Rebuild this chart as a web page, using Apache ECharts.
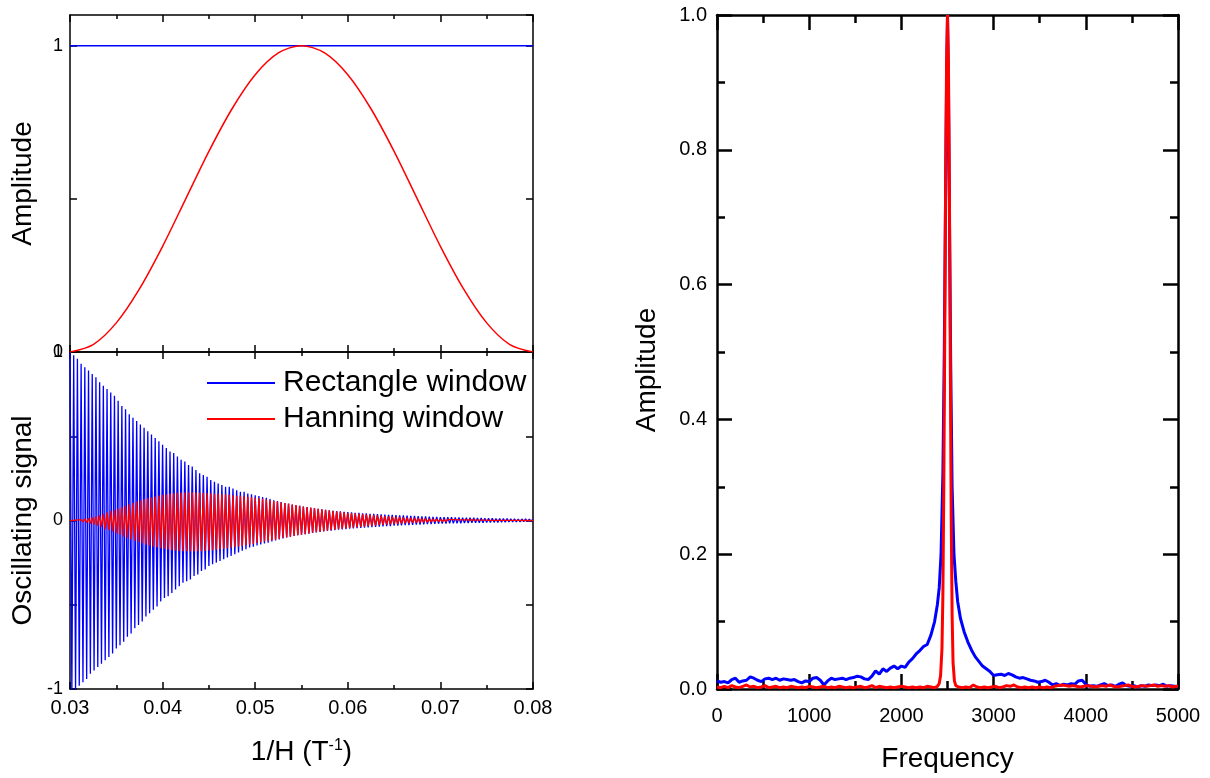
<!DOCTYPE html>
<html>
<head>
<meta charset="utf-8">
<script src="https://cdn.jsdelivr.net/npm/echarts@6/dist/echarts.min.js"></script>
<style>
html,body{margin:0;padding:0;background:#fff;}
#chart{width:1210px;height:778px;}
</style>
</head>
<body>
<div id="chart"></div>
<script>
// ---------- DATA ----------
const seriesNames = ['Rectangle window', 'Hanning window'];

// Top-left: window functions vs 1/H
const windowX = [0.03, 0.08];
const rectWindow = [1, 1];
const hannX = [0.03,0.0325,0.035,0.0375,0.04,0.0425,0.045,0.0475,0.05,0.0525,0.055,0.0575,0.06,0.0625,0.065,0.0675,0.07,0.0725,0.075,0.0775,0.08];
const hannY = [0,0.024,0.095,0.206,0.345,0.5,0.655,0.794,0.905,0.976,1,0.976,0.905,0.794,0.655,0.5,0.345,0.206,0.095,0.024,0];

// Bottom-left: oscillating signal, successive extrema (one value per half-cycle)
const signalStart = 0.03;
const signalStep = 0.0002;
const rectSignal = [
1.00,-1.03,0.98,-1.01,0.96,-0.98,0.93,-0.96,0.91,-0.94,0.89,-0.91,0.87,-0.89,0.85,-0.87,0.82,-0.85,0.80,-0.83,0.78,-0.81,0.76,-0.79,0.74,
-0.76,0.71,-0.74,0.68,-0.72,0.66,-0.69,0.63,-0.67,0.61,-0.64,0.59,-0.62,0.57,-0.60,0.55,-0.57,0.53,-0.55,0.51,-0.53,0.49,-0.51,0.47,-0.48,
0.45,-0.46,0.43,-0.45,0.41,-0.43,0.40,-0.41,0.38,-0.39,0.36,-0.37,0.35,-0.36,0.33,-0.35,0.32,-0.33,0.30,-0.32,0.28,-0.30,0.27,-0.29,0.26,
-0.27,0.24,-0.26,0.23,-0.25,0.22,-0.24,0.21,-0.23,0.20,-0.22,0.20,-0.21,0.19,-0.20,0.18,-0.19,0.17,-0.18,0.17,-0.17,0.16,-0.16,0.155,-0.155,
0.15,-0.148,0.145,-0.142,0.14,-0.137,0.135,-0.132,0.128,-0.125,0.12,-0.118,0.115,-0.112,0.11,-0.107,0.104,-0.101,0.099,-0.096,0.094,-0.092,0.09,-0.088,0.087,
-0.085,0.083,-0.081,0.08,-0.078,0.076,-0.074,0.073,-0.071,0.07,-0.068,0.067,-0.065,0.064,-0.062,0.061,-0.06,0.058,-0.057,0.056,-0.055,0.054,-0.053,0.052,-0.051,
0.05,-0.049,0.048,-0.047,0.046,-0.045,0.045,-0.044,0.043,-0.042,0.042,-0.041,0.04,-0.039,0.039,-0.038,0.038,-0.037,0.036,-0.035,0.035,-0.034,0.034,-0.033,0.033,
-0.031,0.032,-0.03,0.031,-0.029,0.03,-0.028,0.029,-0.027,0.028,-0.026,0.027,-0.025,0.026,-0.024,0.025,-0.023,0.024,-0.022,0.023,-0.021,0.022,-0.02,0.021,-0.019,
0.02,-0.018,0.02,-0.018,0.019,-0.017,0.019,-0.017,0.018,-0.016,0.018,-0.016,0.017,-0.015,0.017,-0.015,0.016,-0.014,0.016,-0.014,0.015,-0.014,0.015,-0.013,0.014,
-0.012,0.013,-0.012,0.013,-0.011,0.012,-0.011,0.012,-0.01,0.011,-0.01,0.011,-0.009,0.01,-0.009,0.01,-0.008,0.009,-0.008,0.009,-0.007,0.009,-0.007,0.008,-0.006,
0.008];
const hannSignal = [
0,-0.001,0.001,-0.002,0.003,-0.005,0.005,-0.008,0.009,-0.012,0.014,-0.019,0.019,-0.025,0.025,-0.032,0.032,-0.04,0.04,-0.051,0.048,-0.058,0.056,-0.066,0.064,
-0.077,0.072,-0.085,0.08,-0.094,0.088,-0.103,0.096,-0.112,0.104,-0.12,0.112,-0.128,0.119,-0.135,0.126,-0.143,0.132,-0.149,0.137,-0.155,0.143,-0.16,0.148,-0.164,
0.152,-0.168,0.155,-0.172,0.159,-0.176,0.162,-0.178,0.164,-0.181,0.166,-0.182,0.166,-0.183,0.167,-0.184,0.167,-0.184,0.166,-0.183,0.165,-0.182,0.164,-0.181,0.163,
-0.178,0.161,-0.176,0.159,-0.174,0.158,-0.171,0.156,-0.168,0.155,-0.164,0.152,-0.161,0.15,-0.158,0.147,-0.154,0.146,-0.151,0.144,-0.146,0.141,-0.143,0.139,-0.139,
0.135,-0.134,0.133,-0.131,0.129,-0.125,0.124,-0.122,0.12,-0.118,0.116,-0.114,0.113,-0.11,0.108,-0.102,0.104,-0.1,0.1,-0.097,0.095,-0.091,0.091,-0.088,0.087,
-0.085,0.083,-0.081,0.08,-0.077,0.077,-0.073,0.074,-0.07,0.07,-0.067,0.067,-0.064,0.064,-0.061,0.061,-0.058,0.058,-0.054,0.055,-0.051,0.051,-0.049,0.048,-0.046,
0.045,-0.044,0.044,-0.042,0.042,-0.04,0.04,-0.038,0.038,-0.036,0.036,-0.034,0.034,-0.032,0.032,-0.03,0.03,-0.028,0.029,-0.026,0.026,-0.025,0.025,-0.023,0.023,
-0.02,0.021,-0.019,0.02,-0.018,0.018,-0.017,0.017,-0.016,0.016,-0.014,0.015,-0.013,0.014,-0.012,0.012,-0.011,0.011,-0.01,0.01,-0.008,0.009,-0.007,0.008,-0.007,
0.007,-0.006,0.006,-0.006,0.006,-0.005,0.005,-0.005,0.005,-0.004,0.004,-0.004,0.004,-0.003,0.004,-0.003,0.003,-0.003,0.003,-0.002,0.002,-0.002,0.002,-0.002,0.002,
-0.001,0.001,-0.001,0.001,-0.001,0.001,-0.001,0.001,-0.001,0.001,-0.001,0.001,-0.0008,0.0008,-0.0006,0.0006,-0.0005,0.0005,-0.0004,0.0004,-0.0003,0.0003,-0.0002,0.0002,-0.0001,
0];

// Right: spectrum [frequency, amplitude]
const rectSpectrum = [
[0,0.012],[40,0.010],[80,0.011],[120,0.009],[160,0.014],[200,0.016],[240,0.010],[280,0.012],[320,0.013],[360,0.018],
[400,0.016],[440,0.013],[480,0.011],[520,0.015],[560,0.016],[600,0.014],[640,0.016],[680,0.013],[720,0.015],[760,0.014],
[800,0.013],[840,0.014],[880,0.011],[920,0.009],[960,0.012],[1000,0.011],[1040,0.016],[1080,0.017],[1120,0.013],[1160,0.006],
[1200,0.012],[1240,0.016],[1280,0.014],[1320,0.015],[1360,0.016],[1400,0.014],[1440,0.016],[1480,0.017],[1520,0.019],[1560,0.018],
[1600,0.015],[1640,0.014],[1680,0.019],[1720,0.027],[1760,0.022],[1800,0.030],[1840,0.026],[1880,0.031],[1920,0.034],[1960,0.030],
[2000,0.034],[2040,0.032],[2080,0.040],[2120,0.045],[2160,0.052],[2200,0.057],[2240,0.063],[2280,0.066],[2320,0.080],[2360,0.100],
[2390,0.125],[2410,0.15],[2430,0.20],[2450,0.32],[2465,0.50],[2480,0.75],[2490,0.90],[2500,1.0],[2510,0.90],[2520,0.72],
[2535,0.48],[2550,0.30],[2570,0.20],[2590,0.16],[2610,0.13],[2640,0.105],[2680,0.085],[2720,0.070],[2760,0.058],[2800,0.048],
[2840,0.041],[2880,0.034],[2920,0.030],[2960,0.026],[3000,0.020],[3040,0.021],[3080,0.022],[3120,0.020],[3160,0.023],[3200,0.021],
[3240,0.018],[3280,0.016],[3320,0.017],[3360,0.015],[3400,0.013],[3440,0.012],[3480,0.010],[3520,0.011],[3560,0.013],[3600,0.010],
[3640,0.006],[3680,0.008],[3720,0.005],[3760,0.007],[3800,0.006],[3840,0.008],[3880,0.007],[3920,0.012],[3960,0.013],[4000,0.007],
[4040,0.004],[4080,0.005],[4120,0.004],[4160,0.006],[4200,0.008],[4240,0.005],[4280,0.006],[4320,0.004],[4360,0.007],[4400,0.009],
[4440,0.005],[4480,0.004],[4520,0.005],[4560,0.003],[4600,0.005],[4640,0.004],[4680,0.006],[4720,0.005],[4760,0.006],[4800,0.005],
[4840,0.007],[4880,0.004],[4920,0.005],[4960,0.004],[5000,0.003]];
const hannSpectrum = [
[0,0.003],[40,0.002],[80,0.004],[120,0.002],[160,0.005],[200,0.003],[240,0.002],[280,0.004],[320,0.006],[360,0.003],
[400,0.004],[440,0.002],[480,0.003],[520,0.005],[560,0.002],[600,0.003],[640,0.004],[680,0.002],[720,0.003],[760,0.002],
[800,0.004],[840,0.003],[880,0.002],[920,0.003],[960,0.002],[1000,0.004],[1040,0.003],[1080,0.002],[1120,0.003],[1160,0.004],
[1200,0.002],[1240,0.003],[1280,0.002],[1320,0.004],[1360,0.003],[1400,0.002],[1440,0.003],[1480,0.002],[1520,0.003],[1560,0.004],
[1600,0.002],[1640,0.003],[1680,0.005],[1720,0.002],[1760,0.004],[1800,0.003],[1840,0.002],[1880,0.003],[1920,0.002],[1960,0.003],
[2000,0.004],[2040,0.003],[2080,0.002],[2120,0.003],[2160,0.002],[2200,0.003],[2240,0.002],[2280,0.004],[2320,0.003],[2360,0.002],
[2390,0.004],[2410,0.008],[2425,0.02],[2440,0.06],[2450,0.14],[2460,0.30],[2470,0.52],[2480,0.76],[2490,0.93],[2500,1.0],
[2510,0.93],[2520,0.76],[2530,0.50],[2540,0.26],[2550,0.11],[2560,0.04],[2575,0.012],[2590,0.005],[2620,0.003],[2660,0.002],
[2700,0.003],[2740,0.002],[2780,0.006],[2820,0.003],[2860,0.002],[2900,0.003],[2940,0.002],[2980,0.003],[3020,0.004],[3060,0.002],
[3100,0.003],[3140,0.005],[3180,0.004],[3220,0.006],[3260,0.003],[3300,0.002],[3340,0.003],[3380,0.002],[3420,0.003],[3460,0.002],
[3500,0.003],[3540,0.002],[3580,0.003],[3620,0.002],[3660,0.004],[3700,0.005],[3740,0.006],[3780,0.005],[3820,0.004],[3860,0.005],
[3900,0.004],[3940,0.003],[3980,0.004],[4020,0.005],[4060,0.004],[4100,0.003],[4140,0.004],[4180,0.005],[4220,0.004],[4260,0.006],
[4300,0.004],[4340,0.003],[4380,0.004],[4420,0.005],[4460,0.006],[4500,0.004],[4540,0.003],[4580,0.004],[4620,0.005],[4660,0.004],
[4700,0.005],[4740,0.006],[4780,0.004],[4820,0.005],[4860,0.004],[4900,0.005],[4940,0.003],[4980,0.004],[5000,0.004]];

// ---------- CHART ----------
const FONT = '"Liberation Sans", Arial, sans-serif';
const BLUE = '#0000ff', RED = '#ff0000';
const NAME = 28;

function axisCommon(lw, tickLen, minorLen, showLabel, labelMargin, fontSize, formatter) {
  return {
    axisLine: { show: true, onZero: false, lineStyle: { color: '#000', width: lw } },
    axisTick: { show: true, inside: true, length: tickLen, lineStyle: { color: '#000', width: lw } },
    minorTick: { show: true, splitNumber: 2, length: minorLen, lineStyle: { color: '#000', width: lw } },
    splitLine: { show: false },
    minorSplitLine: { show: false },
    axisLabel: { show: showLabel, margin: labelMargin, color: '#000', fontSize: fontSize, fontFamily: FONT, formatter: formatter }
  };
}

const chart = echarts.init(document.getElementById('chart'), null, { renderer: 'canvas' });

const xAxes = [
  Object.assign({ type: 'value', gridIndex: 0, position: 'bottom', min: 0.03, max: 0.08, interval: 0.01 }, axisCommon(1.5, 7, 4, false, 6, 20)),
  Object.assign({ type: 'value', gridIndex: 0, position: 'top', min: 0.03, max: 0.08, interval: 0.01 }, axisCommon(1.5, 7, 4, false, 6, 20)),
  Object.assign({ type: 'value', gridIndex: 1, position: 'bottom', min: 0.03, max: 0.08, interval: 0.01,
    name: '1/H (T{sup|-1})', nameLocation: 'middle', nameGap: 49,
    nameTextStyle: { fontSize: NAME, fontFamily: FONT, color: '#000', rich: { sup: { fontSize: 16, fontFamily: FONT, color: '#000', verticalAlign: 'top', padding: [0, 0, 12, 0] } } }
  }, axisCommon(1.5, 7, 4, true, 9, 20, v => v.toFixed(2))),
  Object.assign({ type: 'value', gridIndex: 1, position: 'top', min: 0.03, max: 0.08, interval: 0.01 }, axisCommon(1.5, 7, 4, false, 6, 20)),
  Object.assign({ type: 'value', gridIndex: 2, position: 'bottom', min: 0, max: 5000, interval: 1000,
    name: 'Frequency', nameLocation: 'middle', nameGap: 56,
    nameTextStyle: { fontSize: NAME, fontFamily: FONT, color: '#000' }
  }, axisCommon(2.5, 15, 8, true, 17, 20, v => String(v))),
  Object.assign({ type: 'value', gridIndex: 2, position: 'top', min: 0, max: 5000, interval: 1000 }, axisCommon(2.5, 15, 8, false, 6, 20))
];

const yAxes = [
  Object.assign({ type: 'value', gridIndex: 0, position: 'left', min: 0, max: 1.1, interval: 0.5,
    name: 'Amplitude', nameLocation: 'middle', nameGap: 33,
    nameTextStyle: { fontSize: NAME, fontFamily: FONT, color: '#000' }
  }, axisCommon(1.5, 7, 4, true, 7, 18, v => (v === 0 ? '0' : (v === 1 ? '1' : '')))),
  Object.assign({ type: 'value', gridIndex: 0, position: 'right', min: 0, max: 1.1, interval: 0.5 }, axisCommon(1.5, 7, 4, false, 6, 18)),
  Object.assign({ type: 'value', gridIndex: 1, position: 'left', min: -1, max: 1, interval: 0.5,
    name: 'Oscillating signal', nameLocation: 'middle', nameGap: 33,
    nameTextStyle: { fontSize: NAME, fontFamily: FONT, color: '#000' }
  }, axisCommon(1.5, 7, 4, true, 7, 18, v => (v === 0 ? '0' : (v === 1 ? '1' : (v === -1 ? '-1' : ''))))),
  Object.assign({ type: 'value', gridIndex: 1, position: 'right', min: -1, max: 1, interval: 0.5 }, axisCommon(1.5, 7, 4, false, 6, 18)),
  Object.assign({ type: 'value', gridIndex: 2, position: 'left', min: 0, max: 1, interval: 0.2,
    name: 'Amplitude', nameLocation: 'middle', nameGap: 56,
    nameTextStyle: { fontSize: NAME, fontFamily: FONT, color: '#000', padding: [0, 36, 0, 0] }
  }, axisCommon(2.5, 15, 8, true, 10, 20, v => v.toFixed(1))),
  Object.assign({ type: 'value', gridIndex: 2, position: 'right', min: 0, max: 1, interval: 0.2 }, axisCommon(2.5, 15, 8, false, 6, 20))
];
// left-panel y axes carry no minor ticks in the reference
[0,1,2,3].forEach(i => { yAxes[i].minorTick = { show: false }; });
yAxes[0].axisLabel.showMaxLabel = false;

const pairs = (xs, ys) => xs.map((x, i) => [x, ys[i]]);
const sampled = ys => ys.map((y, i) => [signalStart + i * signalStep, y]);

const option = {
  animation: false,
  backgroundColor: '#fff',
  grid: [
    { left: 70, top: 15, width: 463, height: 337 },
    { left: 70, top: 352, width: 463, height: 337 },
    { left: 717, top: 15, width: 461, height: 674 }
  ],
  legend: {
    data: seriesNames.map(n => ({ name: n, icon: 'rect' })),
    orient: 'vertical',
    left: 207, top: 367, padding: 0,
    itemWidth: 68, itemHeight: 2, itemGap: 4,
    itemStyle: { borderWidth: 0 },
    textStyle: { fontSize: 30, lineHeight: 32, fontFamily: FONT, color: '#000', padding: [0, 0, 0, 3] }
  },
  xAxis: xAxes,
  yAxis: yAxes,
  series: [
    { name: seriesNames[0], type: 'line', xAxisIndex: 2, yAxisIndex: 2, symbol: 'none', data: sampled(rectSignal),
      lineStyle: { color: BLUE, width: 1.3 }, itemStyle: { color: BLUE } },
    { name: seriesNames[1], type: 'line', xAxisIndex: 2, yAxisIndex: 2, symbol: 'none', data: sampled(hannSignal),
      lineStyle: { color: RED, width: 1.4 }, itemStyle: { color: RED } },
    { name: seriesNames[0], type: 'line', xAxisIndex: 0, yAxisIndex: 0, symbol: 'none', data: pairs(windowX, rectWindow),
      lineStyle: { color: BLUE, width: 1.5 }, itemStyle: { color: BLUE } },
    { name: seriesNames[1], type: 'line', xAxisIndex: 0, yAxisIndex: 0, symbol: 'none', smooth: 0.3, data: pairs(hannX, hannY),
      lineStyle: { color: RED, width: 1.5 }, itemStyle: { color: RED } },
    { name: seriesNames[0], type: 'line', xAxisIndex: 4, yAxisIndex: 4, symbol: 'none', data: rectSpectrum,
      lineStyle: { color: BLUE, width: 3 }, itemStyle: { color: BLUE } },
    { name: seriesNames[1], type: 'line', xAxisIndex: 4, yAxisIndex: 4, symbol: 'none', data: hannSpectrum,
      lineStyle: { color: RED, width: 3 }, itemStyle: { color: RED } }
  ]
};
chart.setOption(option);
</script>
</body>
</html>
